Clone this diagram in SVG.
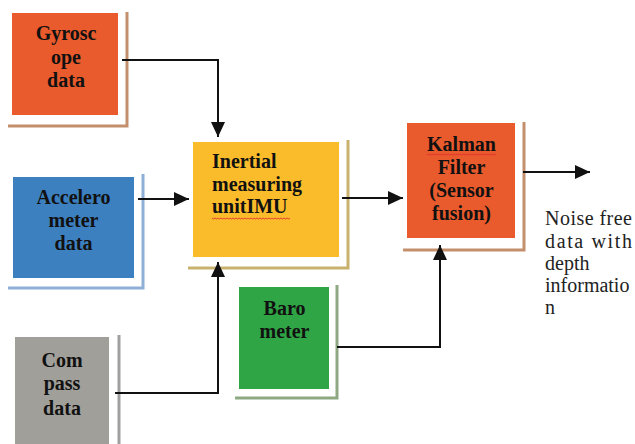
<svg xmlns="http://www.w3.org/2000/svg" width="635" height="444" viewBox="0 0 635 444">
<style>
.sh{stroke-width:3;fill:none}
.conn{stroke:#111;stroke-width:2;fill:none;marker-end:url(#ah)}
.wavy{stroke:#e03030;stroke-width:0.9;fill:none}
</style>
<defs>
<marker id="ah" markerUnits="userSpaceOnUse" markerWidth="15" markerHeight="14" refX="15" refY="7" orient="auto">
<path d="M0,0 L15,7 L0,14 z" fill="#111"/>
</marker>
</defs>
<rect width="635" height="444" fill="#fff"/>
<g id="gyroscope">
<path class="sh" stroke="#c48f6c" d="M127,12 V126 H8"/>
<rect x="12" y="13" width="106" height="102" fill="#e95a2c"/>
<text style="font-family:'Liberation Serif',serif;font-weight:bold;font-size:20px;fill:#111;text-anchor:middle" x="66" y="40">Gyrosc</text>
<text style="font-family:'Liberation Serif',serif;font-weight:bold;font-size:20px;fill:#111;text-anchor:middle" x="66" y="63.5">ope</text>
<text style="font-family:'Liberation Serif',serif;font-weight:bold;font-size:20px;fill:#111;text-anchor:middle" x="66" y="87">data</text>
</g>
<g id="accelerometer">
<path class="sh" stroke="#8eafd8" d="M143,174 V288 H8"/>
<rect x="13" y="177" width="121" height="101" fill="#3d80c0"/>
<text style="font-family:'Liberation Serif',serif;font-weight:bold;font-size:20px;fill:#111;text-anchor:middle" x="73.5" y="204">Accelero</text>
<text style="font-family:'Liberation Serif',serif;font-weight:bold;font-size:20px;fill:#111;text-anchor:middle" x="73.5" y="227">meter</text>
<text style="font-family:'Liberation Serif',serif;font-weight:bold;font-size:20px;fill:#111;text-anchor:middle" x="73.5" y="250">data</text>
</g>
<g id="imu">
<path class="sh" stroke="#c9b16e" d="M348,140 V268 H188"/>
<rect x="193" y="142" width="146" height="115" fill="#fbbc2b"/>
<text style="font-family:'Liberation Serif',serif;font-weight:bold;font-size:20px;fill:#111" x="212" y="168">Inertial</text>
<text style="font-family:'Liberation Serif',serif;font-weight:bold;font-size:20px;fill:#111" x="212" y="191">measuring</text>
<text style="font-family:'Liberation Serif',serif;font-weight:bold;font-size:20px;fill:#111" x="212" y="213">unitIMU</text>
<path class="wavy" d="M212,218 l1.5,1 l1.5,-1 l1.5,1 l1.5,-1 l1.5,1 l1.5,-1 l1.5,1 l1.5,-1 l1.5,1 l1.5,-1 l1.5,1 l1.5,-1 l1.5,1 l1.5,-1 l1.5,1 l1.5,-1 l1.5,1 l1.5,-1 l1.5,1 l1.5,-1 l1.5,1 l1.5,-1 l1.5,1 l1.5,-1 l1.5,1 l1.5,-1 l1.5,1 l1.5,-1 l1.5,1 l1.5,-1 l1.5,1 l1.5,-1 l1.5,1 l1.5,-1 l1.5,1 l1.5,-1 l1.5,1 l1.5,-1 l1.5,1 l1.5,-1 l1.5,1 l1.5,-1 l1.5,1 l1.5,-1 l1.5,1 l1.5,-1 l1.5,1 l1.5,-1 l1.5,1 l1.5,-1 l1.5,1 l1.5,-1"/>
</g>
<g id="kalman">
<path class="sh" stroke="#c48f6c" d="M524,122 V250 H403"/>
<rect x="407" y="123" width="108" height="115" fill="#e95a2c"/>
<text style="font-family:'Liberation Serif',serif;font-weight:bold;font-size:20px;fill:#111;text-anchor:middle" x="461.5" y="151">Kalman</text>
<text style="font-family:'Liberation Serif',serif;font-weight:bold;font-size:20px;fill:#111;text-anchor:middle" x="461.5" y="174">Filter</text>
<text style="font-family:'Liberation Serif',serif;font-weight:bold;font-size:20px;fill:#111;text-anchor:middle" x="461.5" y="197">(Sensor</text>
<text style="font-family:'Liberation Serif',serif;font-weight:bold;font-size:20px;fill:#111;text-anchor:middle" x="461.5" y="220">fusion)</text>
<path class="wavy" d="M427,154 l1.5,1 l1.5,-1 l1.5,1 l1.5,-1 l1.5,1 l1.5,-1 l1.5,1 l1.5,-1 l1.5,1 l1.5,-1 l1.5,1 l1.5,-1 l1.5,1 l1.5,-1 l1.5,1 l1.5,-1 l1.5,1 l1.5,-1 l1.5,1 l1.5,-1 l1.5,1 l1.5,-1 l1.5,1 l1.5,-1 l1.5,1 l1.5,-1 l1.5,1 l1.5,-1 l1.5,1 l1.5,-1 l1.5,1 l1.5,-1 l1.5,1 l1.5,-1 l1.5,1 l1.5,-1 l1.5,1 l1.5,-1 l1.5,1 l1.5,-1 l1.5,1 l1.5,-1 l1.5,1 l1.5,-1 l1.5,1 l1.5,-1"/>
</g>
<g id="barometer">
<path class="sh" stroke="#8ea882" d="M337,285 V398 H235"/>
<rect x="239" y="287" width="90" height="102" fill="#30a545"/>
<text style="font-family:'Liberation Serif',serif;font-weight:bold;font-size:20px;fill:#111;text-anchor:middle" x="284.5" y="315">Baro</text>
<text style="font-family:'Liberation Serif',serif;font-weight:bold;font-size:20px;fill:#111;text-anchor:middle" x="284.5" y="338">meter</text>
</g>
<g id="compass">
<path class="sh" stroke="#a0a0a0" d="M119,335 V444"/>
<rect x="15" y="337" width="94" height="107" fill="#a19f9a"/>
<text style="font-family:'Liberation Serif',serif;font-weight:bold;font-size:20px;fill:#111;text-anchor:middle" x="62" y="367">Com</text>
<text style="font-family:'Liberation Serif',serif;font-weight:bold;font-size:20px;fill:#111;text-anchor:middle" x="62" y="390">pass</text>
<text style="font-family:'Liberation Serif',serif;font-weight:bold;font-size:20px;fill:#111;text-anchor:middle" x="62" y="415">data</text>
</g>
<g id="output">
<text style="font-family:'Liberation Serif',serif;font-size:20px;fill:#222" x="545" y="225" textLength="87" lengthAdjust="spacing">Noise free</text>
<text style="font-family:'Liberation Serif',serif;font-size:20px;fill:#222" x="545" y="248" textLength="87" lengthAdjust="spacing">data with</text>
<text style="font-family:'Liberation Serif',serif;font-size:20px;fill:#222" x="545" y="270">depth</text>
<text style="font-family:'Liberation Serif',serif;font-size:20px;fill:#222" x="545" y="292">informatio</text>
<text style="font-family:'Liberation Serif',serif;font-size:20px;fill:#222" x="545" y="314">n</text>
</g>
<g id="connectors">
<path class="conn" d="M122,60 H218 V137"/>
<path class="conn" d="M138,199 H189"/>
<path class="conn" d="M115,393 H218 V262"/>
<path class="conn" d="M342,198 H403"/>
<path class="conn" d="M337,347 H440 V245"/>
<path class="conn" d="M523,172 H590"/>
</g>
</svg>
